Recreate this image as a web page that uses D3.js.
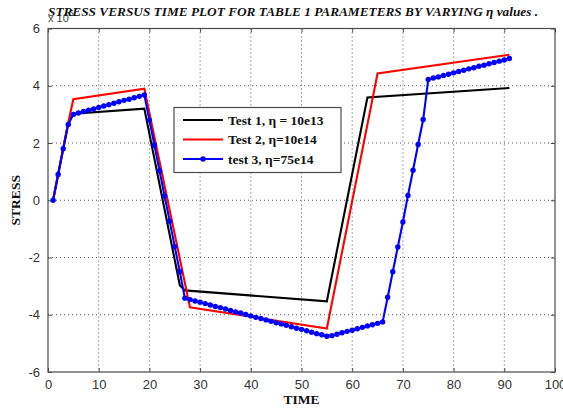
<!DOCTYPE html>
<html>
<head>
<meta charset="utf-8">
<script src="https://cdn.jsdelivr.net/npm/d3@7/dist/d3.min.js"></script>
<style>
  html, body { margin: 0; padding: 0; background: #fff; }
  svg { display: block; }
</style>
</head>
<body>
<svg id="chart" width="563" height="410"></svg>
<script>
// Stress (x 10^6) against time for three viscosity settings
const xTicks = [0, 10, 20, 30, 40, 50, 60, 70, 80, 90, 100];
const yTicks = [-6, -4, -2, 0, 2, 4, 6];

// Test 1 and Test 2 are drawn as plain polylines through their corners
const test1Time   = [1, 4, 5, 19, 26, 27, 55, 63, 91];
const test1Stress = [0, 2.7, 3.02, 3.2, -2.97, -3.15, -3.53, 3.59, 3.92];

const test2Time   = [1, 4, 5, 19, 28, 55, 65, 91];
const test2Stress = [0, 2.72, 3.53, 3.9, -3.74, -4.48, 4.43, 5.08];

// Test 3 is sampled at every time step (1..91)
const test3Time = d3.range(1, 92);
const test3Stress = [
  0, 0.9, 1.8, 2.65, 3.0, 3.05, 3.10, 3.15, 3.19, 3.24,
  3.29, 3.34, 3.39, 3.44, 3.49, 3.53, 3.58, 3.63, 3.68, 2.80,
  1.92, 1.03, 0.15, -0.73, -1.62, -2.50, -3.42, -3.47, -3.52, -3.56,
  -3.61, -3.66, -3.71, -3.75, -3.80, -3.85, -3.90, -3.94, -3.99, -4.04,
  -4.09, -4.13, -4.18, -4.23, -4.28, -4.32, -4.37, -4.42, -4.47, -4.51,
  -4.56, -4.61, -4.66, -4.70, -4.75, -4.73, -4.68, -4.63, -4.58, -4.54,
  -4.49, -4.44, -4.39, -4.35, -4.30, -4.25, -3.39, -2.50, -1.63, -0.76,
  0.17, 1.05, 1.95, 2.82, 4.22, 4.27, 4.31, 4.36, 4.40, 4.45,
  4.50, 4.54, 4.59, 4.63, 4.68, 4.72, 4.77, 4.81, 4.86, 4.90,
  4.95
];

const seriesNames  = ["Test 1, \u03b7 = 10e13", "Test 2, \u03b7=10e14", "test 3, \u03b7=75e14"];
const seriesColors = ["#000000", "#ff0000", "#0000ff"];

const svg = d3.select("#chart");
const plotL = 48, plotR = 555, plotT = 28.5, plotB = 372;

const x = d3.scaleLinear().domain([0, 100]).range([plotL, plotR]);
const y = d3.scaleLinear().domain([-6, 6]).range([plotB, plotT]);

const axisColor = "#4a4a4a";
const tickFont = "Liberation Sans, Arial, sans-serif";
const serif = "Liberation Serif, Times New Roman, serif";
const plainNumber = d => String(d);   // keeps an ASCII hyphen for negatives

// dotted grid
const grid = svg.append("g");
grid.selectAll("line.gx").data(xTicks.slice(1, -1)).join("line")
  .attr("x1", d => x(d)).attr("x2", d => x(d))
  .attr("y1", plotT).attr("y2", plotB)
  .attr("stroke", "#555").attr("stroke-width", 1)
  .attr("stroke-dasharray", "1,3");
grid.selectAll("line.gy").data(yTicks.slice(1, -1)).join("line")
  .attr("y1", d => y(d)).attr("y2", d => y(d))
  .attr("x1", plotL).attr("x2", plotR)
  .attr("stroke", "#555").attr("stroke-width", 1)
  .attr("stroke-dasharray", "1,3");

// axes with inward ticks on all four sides
function styleAxis(g) {
  g.select(".domain").remove();
  g.selectAll(".tick line").attr("stroke", axisColor);
  g.selectAll(".tick text").attr("fill", "#333").attr("font-family", tickFont).attr("font-size", 13);
}
svg.append("g").attr("transform", `translate(0,${plotB})`)
  .call(d3.axisBottom(x).tickValues(xTicks).tickFormat(plainNumber).tickSizeInner(-4).tickSizeOuter(0).tickPadding(8))
  .call(styleAxis);
svg.append("g").attr("transform", `translate(0,${plotT})`)
  .call(d3.axisTop(x).tickValues(xTicks).tickSizeInner(-4).tickSizeOuter(0).tickFormat(""))
  .call(styleAxis);
svg.append("g").attr("transform", `translate(${plotL},0)`)
  .call(d3.axisLeft(y).tickValues(yTicks).tickFormat(plainNumber).tickSizeInner(-4).tickSizeOuter(0).tickPadding(8))
  .call(styleAxis);
svg.append("g").attr("transform", `translate(${plotR},0)`)
  .call(d3.axisRight(y).tickValues(yTicks).tickSizeInner(-4).tickSizeOuter(0).tickFormat(""))
  .call(styleAxis);

svg.append("rect")
  .attr("x", plotL).attr("y", plotT)
  .attr("width", plotR - plotL).attr("height", plotB - plotT)
  .attr("fill", "none").attr("stroke", axisColor).attr("stroke-width", 1.2);

// series
const line = d3.line().x(d => x(d[0])).y(d => y(d[1]));
const series = [
  d3.zip(test1Time, test1Stress),
  d3.zip(test2Time, test2Stress),
  d3.zip(test3Time, test3Stress)
];
series.forEach((pts, i) => {
  svg.append("path").datum(pts)
    .attr("d", line)
    .attr("fill", "none")
    .attr("stroke", seriesColors[i])
    .attr("stroke-width", 2.1)
    .attr("stroke-linejoin", "miter");
});
svg.append("g").selectAll("circle").data(series[2]).join("circle")
  .attr("cx", d => x(d[0])).attr("cy", d => y(d[1]))
  .attr("r", 2.7).attr("fill", seriesColors[2]);

// legend
const lg = svg.append("g");
lg.append("rect")
  .attr("x", 174).attr("y", 107.5).attr("width", 167).attr("height", 65)
  .attr("fill", "#fff").attr("stroke", axisColor).attr("stroke-width", 1.2);
seriesNames.forEach((name, i) => {
  const ly = 120 + i * 19.5;
  lg.append("line")
    .attr("x1", 183).attr("x2", 223).attr("y1", ly).attr("y2", ly)
    .attr("stroke", seriesColors[i]).attr("stroke-width", 2);
  if (i === 2) {
    lg.append("circle").attr("cx", 203).attr("cy", ly).attr("r", 2.7).attr("fill", seriesColors[i]);
  }
  lg.append("text")
    .attr("x", 228).attr("y", ly + 4.5)
    .attr("font-family", serif).attr("font-weight", "bold").attr("font-size", 13.5)
    .attr("fill", "#111")
    .text(name);
});

// exponent marker, partly under the title as in the original plot
const ex = svg.append("text")
  .attr("x", plotL).attr("y", 22)
  .attr("font-family", tickFont).attr("font-size", 11).attr("fill", "#444");
ex.append("tspan").text("x 10");
ex.append("tspan").attr("dy", -6).attr("font-size", 9).text("6");

// title
svg.append("text")
  .attr("x", 48).attr("y", 16)
  .attr("font-family", serif).attr("font-weight", "bold").attr("font-style", "italic")
  .attr("font-size", 12.5).attr("fill", "#111")
  .attr("textLength", 490).attr("lengthAdjust", "spacingAndGlyphs")
  .text("STRESS VERSUS TIME PLOT FOR TABLE 1 PARAMETERS BY VARYING \u03b7 values .");

// axis titles
svg.append("text")
  .attr("x", x(50)).attr("y", 404).attr("text-anchor", "middle")
  .attr("font-family", serif).attr("font-weight", "bold").attr("font-size", 13.5)
  .attr("fill", "#111").text("TIME");
svg.append("text")
  .attr("transform", `translate(20,${y(0)}) rotate(-90)`)
  .attr("text-anchor", "middle")
  .attr("font-family", serif).attr("font-weight", "bold").attr("font-size", 13.5)
  .attr("fill", "#111").text("STRESS");
</script>
</body>
</html>
